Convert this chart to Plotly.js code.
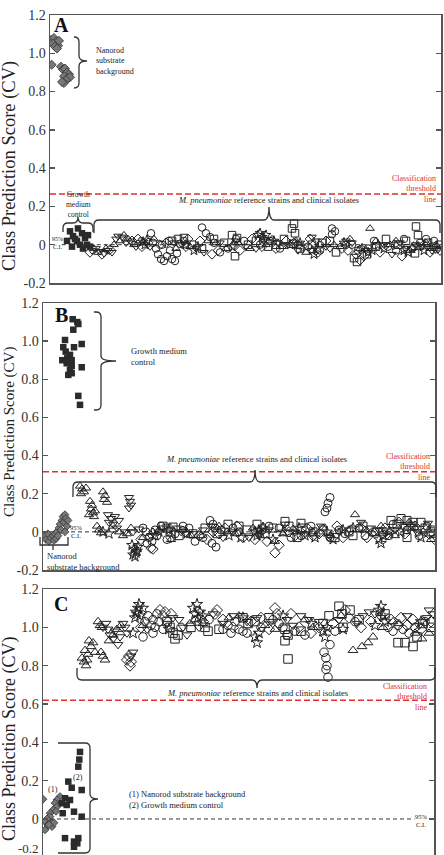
<!DOCTYPE html>
<html><head><meta charset="utf-8">
<script src="https://cdn.plot.ly/plotly-3.0.1.min.js"></script>
<style>body{margin:0;background:#fff}#c{width:444px;height:855px}</style>
</head><body><div id="c"></div>
<script>
// ---------- DATA (x = sample position along strip, y = class prediction score) ----------
// Panel A
const A_nanorod = [[1,1.07],[4,1.08],[6,1.06],[8,1.04],[3,1.05],[9,1.065],[5,1.035],[7,1.025],[1.7,0.94],[11,0.93],[13,0.915],[15,0.92],[17,0.9],[19,0.89],[14,0.88],[18,0.87],[20,0.875],[16,0.86],[14,0.845],[12,0.85]];
const A_growth = [[20,0.07],[28,0.085],[32,0.06],[23,0.045],[35,0.035],[17,0.02],[27,0.02],[30,0.0],[37,0.0],[22,-0.01],[33,-0.02],[40,-0.01],[25,0.03],[38,0.05]];
const A_tdn = [[42,-0.03],[46,-0.02],[50,-0.035],[54,-0.045],[58,-0.03],[62,-0.04],[66,0.03],[68,0.045],[72,0.04],[76,0.01],[80,0.02],[86,-0.01],[132,0.0],[146,-0.02],[170,0.01],[196,-0.01],[214,0.02],[238,0.0],[248,-0.03],[262,0.04],[266,0.02],[280,-0.02],[302,0.01],[316,-0.03],[334,0.0],[350,0.01],[356,-0.02],[372,-0.01],[382,-0.03],[388,-0.025],[100,-0.01],[124,0.01],[154,-0.04],[186,0.02],[206,-0.02],[228,0.01],[276,-0.01],[296,0.02],[342,-0.05],[366,0.0]];
const A_tup = [[44,-0.02],[48,-0.04],[56,-0.02],[64,0.0],[70,0.02],[74,0.05],[78,0.03],[84,0.0],[90,0.02],[94,0.01],[140,-0.01],[158,0.02],[176,-0.02],[188,0.01],[222,0.03],[232,-0.01],[256,-0.04],[270,0.0],[290,-0.01],[300,0.03],[320,0.085],[326,0.02],[340,0.0],[360,-0.03],[376,0.01],[386,0.0],[104,0.03],[126,-0.02],[166,0.01],[200,-0.02],[216,0.0],[246,0.02],[284,0.0],[310,-0.02],[346,0.02],[380,-0.02]];
const A_dia = [[40,-0.04],[52,-0.05],[60,-0.025],[82,0.02],[88,0.03],[92,-0.01],[98,0.01],[110,0.0],[136,-0.01],[150,0.02],[168,-0.03],[184,0.0],[202,0.03],[226,-0.02],[244,0.01],[252,-0.01],[268,-0.04],[276,0.02],[292,-0.02],[306,-0.05],[310,-0.08],[314,-0.06],[330,-0.04],[344,0.0],[364,-0.01],[380,-0.04],[386,-0.02],[390,-0.03],[116,0.01],[138,0.03],[162,-0.05],[190,-0.03],[212,-0.01],[236,0.02],[260,0.03],[298,-0.03],[352,-0.06],[374,0.0]];
const A_cir = [[101,0.06],[103,0.01],[106,-0.02],[108,-0.05],[111,-0.075],[114,-0.085],[117,-0.06],[120,-0.03],[122,-0.075],[125,-0.085],[127,-0.045],[112,0.0],[119,0.02],[130,0.005],[152,0.09],[156,0.06],[160,0.04],[164,0.01],[178,-0.02],[194,0.02],[210,0.0],[230,-0.02],[258,-0.01],[282,0.085],[285,0.07],[282,0.055],[296,0.0],[308,-0.03],[324,0.02],[338,-0.01],[354,0.03],[370,0.01],[384,0.02],[134,0.02],[170,-0.04],[186,0.03],[220,0.02],[248,0.0],[270,-0.03],[302,0.0],[318,-0.02],[346,-0.03],[376,0.03]];
const A_sq = [[122,0.02],[128,0.03],[134,0.035],[142,0.0],[174,0.01],[182,0.05],[187,0.035],[185,-0.06],[198,0.0],[218,-0.01],[234,0.03],[244,0.11],[242,0.085],[245,0.06],[243,0.005],[250,-0.02],[272,0.01],[286,-0.04],[304,-0.07],[307,-0.09],[317,-0.05],[336,0.03],[348,0.0],[366,0.095],[368,0.05],[365,-0.045],[378,0.01],[152,-0.02],[164,0.03],[206,0.02],[226,0.0],[262,0.0],[280,0.02],[326,-0.01],[356,0.02],[384,-0.01],[390,0.0]];
const A_star = [[93,0.015],[95,0.0],[97,0.025],[144,-0.03],[148,-0.01],[208,0.05],[210,0.06],[212,0.04],[214,0.03],[216,0.05],[240,0.0],[262,-0.03],[264,-0.05],[268,-0.02],[312,-0.02],[318,-0.04],[322,-0.03],[328,0.0],[354,-0.03],[358,-0.04],[362,-0.02],[136,0.0],[182,-0.01],[224,0.02],[250,0.01],[294,0.01],[334,-0.02],[368,-0.01],[374,-0.03]];
// Panel B
const B_nanorod = [[1,-0.02],[3,-0.04],[5,-0.01],[6,-0.05],[8,-0.03],[10,-0.02],[11,-0.045],[12,-0.01],[13,-0.035],[14,0.0],[15,-0.02],[16,0.02],[17,0.04],[18,0.01],[19,0.06],[20,0.08],[21,0.05],[22,0.09],[23,0.07],[24,0.03],[25,0.06],[22,0.0]];
const B_growth = [[29.7,1.115],[34.3,1.1],[35.3,1.09],[30.3,1.06],[22,1.006],[20.3,0.968],[31,0.968],[38.7,0.985],[22.7,0.945],[27,0.928],[19.3,0.9],[24.3,0.91],[28.7,0.9],[23.7,0.884],[28.7,0.87],[38.7,0.863],[27,0.85],[25.3,0.823],[28.7,0.832],[35.3,0.713],[37,0.666]];
const B_tup = [[37,0.24],[39,0.225],[41,0.21],[38,0.2],[43,0.23],[47,0.16],[49,0.14],[48,0.12],[50,0.1],[46,0.09],[51,0.08],[52,0.11],[60,0.21],[62,0.19],[61,0.17],[64,0.155],[56,0.01],[58,-0.005],[70,0.03],[76,0.0],[80,-0.02],[88,0.02],[100,-0.03],[110,0.0],[128,-0.04],[140,0.01],[158,-0.02],[176,0.03],[192,-0.01],[210,0.02],[232,-0.05],[250,0.015],[270,0.0],[288,-0.02],[312,0.09],[322,0.01],[338,0.03],[352,-0.02],[366,0.05],[380,0.0],[388,-0.04],[54,0.03],[84,-0.01],[116,0.01],[148,-0.02],[184,0.0],[220,0.03],[240,-0.01],[280,0.02],[330,-0.01],[372,0.02]];
const B_tdn = [[86,0.18],[87,0.16],[88,0.14],[86,0.125],[65,0.09],[68,0.07],[72,0.08],[66,0.05],[70,0.04],[74,0.02],[76,0.06],[82,0.0],[96,0.015],[120,0.02],[138,0.0],[150,-0.01],[168,0.03],[190,0.0],[206,-0.03],[226,0.01],[242,0.04],[262,-0.01],[278,0.03],[296,0.0],[318,0.05],[328,0.02],[344,-0.02],[360,0.03],[374,0.0],[385,0.045],[390,0.02],[90,0.0],[108,-0.02],[134,0.02],[160,0.01],[180,-0.03],[216,-0.02],[252,0.0],[286,-0.03],[336,0.01],[352,0.01]];
const B_star = [[89,-0.07],[91,-0.09],[93,-0.11],[90,-0.12],[95,-0.08],[92,-0.13],[94,-0.1],[60,0.0],[66,-0.01],[112,-0.02],[126,0.01],[186,-0.02],[212,0.0],[214,-0.02],[216,0.01],[218,-0.01],[220,0.02],[230,-0.04],[256,0.02],[262,-0.02],[284,0.0],[290,-0.04],[300,0.01],[336,-0.04],[338,-0.06],[340,-0.02],[358,0.0],[378,-0.03],[116,0.0],[144,-0.01],[198,-0.03],[240,0.0],[272,-0.03],[310,0.02],[346,0.0],[368,0.03]];
const B_cir = [[100,0.02],[103,0.0],[106,-0.03],[109,-0.05],[112,0.01],[114,-0.02],[104,-0.06],[167,0.06],[170,0.04],[172,0.02],[169,-0.06],[173,-0.08],[287,0.18],[285,0.15],[284,0.125],[282,0.105],[287,-0.03],[118,0.03],[132,-0.01],[146,0.02],[160,-0.03],[178,0.01],[196,0.0],[236,0.02],[248,-0.03],[268,0.03],[302,-0.01],[316,0.02],[332,0.0],[350,0.04],[364,0.01],[376,-0.02],[384,0.03],[124,-0.04],[140,0.03],[152,-0.05],[190,0.02],[226,0.03],[258,-0.02],[296,0.01],[322,-0.02],[346,-0.02],[390,-0.01]];
const B_sq = [[120,0.03],[124,0.02],[128,0.0],[130,0.025],[185,0.04],[196,0.03],[242,0.055],[246,0.03],[258,0.045],[259,0.02],[270,0.0],[292,-0.03],[306,0.0],[310,-0.02],[348,0.06],[354,0.04],[358,0.07],[364,0.06],[368,0.03],[370,0.05],[364,-0.03],[382,0.02],[150,-0.01],[204,0.01],[222,-0.01],[230,0.02],[136,-0.02],[162,0.02],[174,-0.01],[214,0.04],[254,-0.03],[280,0.01],[320,0.03],[340,0.0],[378,0.05],[388,0.0]];
const B_dia = [[108,-0.085],[110,-0.09],[142,0.0],[156,-0.02],[164,-0.04],[176,-0.01],[182,0.02],[200,-0.03],[224,-0.05],[232,-0.11],[236,-0.07],[252,-0.02],[264,0.02],[276,-0.01],[294,0.03],[308,0.01],[324,-0.03],[330,0.0],[342,0.02],[356,0.05],[372,0.03],[386,-0.01],[392,-0.04],[98,-0.04],[128,-0.03],[170,0.0],[194,0.03],[212,-0.04],[246,0.0],[270,-0.02],[300,-0.03],[318,0.02],[362,-0.01]];
// Panel C
const C_nanorod = [[0,0.103],[17,0.117],[14,0.1],[12,0.083],[14,0.064],[10,0.047],[7,0.03],[7,0.012],[4,0.0],[2,-0.014],[5,-0.031],[2,-0.057],[9,-0.02],[9,-0.04],[11,-0.02],[6,-0.03],[13,0.04]];
const C_growth = [[37,0.35],[36.3,0.31],[35.3,0.273],[25.3,0.195],[28.7,0.163],[38.7,0.151],[22,0.108],[27,0.099],[18.7,0.082],[23.7,0.073],[19.7,0.03],[31,0.038],[38.7,0.012],[22,-0.1],[31,-0.118],[35.3,-0.1],[34.3,-0.127],[31,-0.145]];
const C_tup = [[39,0.84],[41,0.82],[43,0.8],[44,0.83],[45,0.86],[42,0.88],[48,0.9],[50,0.92],[52,0.87],[46,0.93],[55,1.03],[57,1.01],[59,1.0],[58,0.87],[60,0.85],[62,0.83],[66,0.93],[70,0.96],[74,0.99],[78,1.01],[147,1.02],[152,1.04],[196,1.06],[232,0.99],[262,1.04],[310,0.88],[319,0.9],[325,0.92],[330,0.95],[340,1.0],[356,1.02],[379,0.94],[386,0.97],[100,1.01],[160,1.02],[186,1.05],[222,1.01],[270,1.0],[298,1.06],[350,1.03],[372,0.97]];
const C_tdn = [[60,1.0],[63,1.02],[65,0.99],[67,0.96],[70,0.94],[72,0.98],[75,0.91],[77,0.95],[80,1.02],[82,1.0],[84,0.97],[88,0.85],[90,0.87],[130,1.05],[136,1.04],[140,1.0],[144,0.96],[170,1.07],[180,1.02],[204,1.03],[214,1.05],[250,1.01],[258,1.06],[266,1.04],[276,1.03],[320,1.06],[326,1.08],[332,1.07],[338,1.05],[386,1.09],[390,1.07],[384,1.05],[104,0.99],[124,1.02],[156,1.0],[190,1.06],[228,1.03],[244,1.04],[296,1.04],[314,1.02],[364,1.06],[376,1.01]];
const C_star = [[90,0.97],[92,1.05],[93,1.08],[95,1.1],[96,1.12],[94,1.07],[97,1.06],[150,1.1],[152,1.07],[155,1.05],[157,1.08],[160,1.06],[154,1.12],[212,0.95],[214,0.92],[216,0.97],[280,0.98],[282,0.95],[284,1.0],[336,1.09],[338,1.11],[340,1.06],[342,1.03],[100,1.1],[126,0.99],[200,1.05],[240,1.06],[268,1.02],[300,0.99],[332,1.01],[378,1.03]];
const C_cir = [[100,0.95],[102,1.03],[105,1.06],[108,1.01],[110,1.04],[112,1.0],[114,1.07],[116,1.03],[110,0.97],[180,0.99],[185,1.01],[188,0.97],[192,1.03],[196,0.99],[200,0.98],[236,1.02],[240,1.0],[244,0.96],[281,0.87],[283,0.84],[284,0.8],[283,0.78],[285,0.74],[287,0.91],[345,1.0],[350,0.98],[355,1.01],[360,0.99],[366,0.97],[230,1.04],[120,0.99],[138,1.0],[166,1.04],[204,0.97],[218,1.0],[252,0.98],[262,0.96],[292,0.98],[312,1.03],[372,1.0],[382,1.03]];
const C_sq = [[124,1.03],[127,1.0],[130,0.97],[132,0.94],[135,0.96],[162,1.0],[165,0.98],[200,1.05],[205,1.02],[242,0.99],[245,0.96],[242,0.93],[245,0.835],[280,1.02],[296,1.11],[307,1.09],[299,1.07],[300,1.0],[355,0.92],[362,0.92],[370,0.9],[374,0.95],[148,1.0],[176,0.99],[212,1.03],[226,1.05],[258,0.98],[286,1.06],[316,1.04],[342,1.07],[380,1.02],[388,1.0]];
const C_dia = [[84,0.83],[86,0.85],[88,0.82],[87,0.8],[117,1.09],[120,1.06],[122,1.08],[172,1.07],[174,1.09],[180,1.04],[208,1.03],[226,0.99],[232,1.1],[234,1.07],[256,1.0],[268,0.97],[290,1.02],[302,1.09],[306,1.05],[318,1.0],[348,1.04],[364,1.01],[378,0.99],[388,1.03],[98,1.0],[128,1.07],[160,1.03],[190,1.0],[218,1.05],[248,1.07],[276,1.0],[328,1.03],[358,1.05],[370,1.04]];
// Reference lines
const thresholds = {A:0.265, B:0.315, C:0.62};
const ciLevel = 0;
const yTickVals = [-0.2,0,0.2,0.4,0.6,0.8,1.0,1.2];
const yTickText = ["-0.2","0","0.2","0.4","0.6","0.8","1.0","1.2"];

// ---------- RENDERING ----------
const W=444, H=855;
const SERIF = "'Liberation Serif', 'Times New Roman', Times, serif";
const traces = [];
function add(pairs, ax, symbol, size, opts={}){
  traces.push({type:'scatter', mode:'markers', showlegend:false, hoverinfo:'skip',
    x:pairs.map(p=>p[0]), y:pairs.map(p=>p[1]), xaxis:'x'+ax, yaxis:'y'+ax,
    marker:{symbol, size, color: opts.color||'#222', line:{color: opts.lc||'#222', width: opts.lw==null?1:opts.lw}}});
}
const open = [['_cir','circle-open'],['_sq','square-open'],['_tup','triangle-up-open'],['_tdn','triangle-down-open'],['_dia','diamond-open'],['_star','star-open']];
const sets = {A:{A_cir,A_sq,A_tup,A_tdn,A_dia,A_star}, B:{B_cir,B_sq,B_tup,B_tdn,B_dia,B_star}, C:{C_cir,C_sq,C_tup,C_tdn,C_dia,C_star}};
const axn = {A:'',B:'2',C:'3'};
const msize = {A:7.5,B:8,C:8.5};
for (const P of ['A','B','C']){
  for (const [suf,sym] of open){ add(sets[P][P+suf], axn[P], sym, msize[P]); }
}
add(A_nanorod,'', 'diamond', 7, {color:'#777', lc:'#333', lw:0.8});
add(A_growth,'', 'square', 6.5, {color:'#2b2b2b', lc:'#2b2b2b', lw:0});
add(B_nanorod,'2', 'diamond', 6, {color:'#777', lc:'#333', lw:0.8});
add(B_growth,'2', 'square', 6.5, {color:'#2b2b2b', lc:'#2b2b2b', lw:0});
add(C_nanorod,'3', 'diamond', 6, {color:'#777', lc:'#333', lw:0.8});
add(C_growth,'3', 'square', 6.5, {color:'#2b2b2b', lc:'#2b2b2b', lw:0});

function xax(l,r){return {domain:[l/W,r/W], showline:true, mirror:true, linecolor:'#555', linewidth:1.5, showticklabels:false, ticks:'', showgrid:false, zeroline:false};}
function yax(top,bot,lo){return {domain:[Math.max(0,1-bot/H),1-top/H], range:[lo,1.2], showline:true, mirror:'allticks', linecolor:'#555', linewidth:1.5,
  ticks:'inside', ticklen:5, tickwidth:1.5, tickcolor:'#555', tickvals:yTickVals, ticktext:yTickText, showgrid:false, zeroline:false,
  tickfont:{family:SERIF, size:14, color:'#333'}};}

const layout = {width:W, height:H, margin:{l:0,r:0,t:0,b:0}, paper_bgcolor:'#fff', plot_bgcolor:'rgba(0,0,0,0)', showlegend:false,
  xaxis:Object.assign(xax(50,441),{range:[0,391], anchor:'y'}),
  yaxis:Object.assign(yax(15,283,-0.2),{anchor:'x'}),
  xaxis2:Object.assign(xax(43,435),{range:[0,392], anchor:'y2'}),
  yaxis2:Object.assign(yax(303,570,-0.2),{anchor:'x2'}),
  xaxis3:Object.assign(xax(43,434),{range:[0,391], anchor:'y3'}),
  yaxis3:Object.assign(yax(589,855,-0.188),{anchor:'x3'}),
  shapes:[], annotations:[]};

const RED = '#e0302c';
[['A',''],['B','2'],['C','3']].forEach(([P,a])=>{
  layout.shapes.push({type:'line', xref:'x'+a+' domain', yref:'y'+a, x0:0, x1:1, y0:thresholds[P], y1:thresholds[P], line:{color:RED, width:1.5, dash:'6px,3px'}});
});
layout.shapes.push({type:'line', xref:'x domain', yref:'y', x0:0.03, x1:1, y0:ciLevel, y1:ciLevel, line:{color:'#333', width:1, dash:'4px,3px'}, layer:'below'});
layout.shapes.push({type:'line', xref:'x2 domain', yref:'y2', x0:0.0, x1:1, y0:ciLevel, y1:ciLevel, line:{color:'#333', width:1, dash:'4px,3px'}, layer:'below'});
layout.shapes.push({type:'line', xref:'x3 domain', yref:'y3', x0:0.0, x1:0.95, y0:ciLevel, y1:ciLevel, line:{color:'#333', width:1, dash:'4px,3px'}, layer:'below'});

const pt=(x,y)=>(x/W).toFixed(5)+','+(1-y/H).toFixed(5);
function hBrace(x1,x2,y,xm,tipY,endY){const r=5,s=Math.sign(endY-y);
  return `M${pt(x1,endY)} L${pt(x1,y+s*r)} Q${pt(x1,y)} ${pt(x1+r,y)} L${pt(xm-r,y)} Q${pt(xm,y)} ${pt(xm,tipY)} Q${pt(xm,y)} ${pt(xm+r,y)} L${pt(x2-r,y)} Q${pt(x2,y)} ${pt(x2,y+s*r)} L${pt(x2,endY)}`;}
function vBrace(x,y1,y2,ym,tipX,endX){const r=5;
  return `M${pt(endX,y1)} L${pt(x-r,y1)} Q${pt(x,y1)} ${pt(x,y1+r)} L${pt(x,ym-r)} Q${pt(x,ym)} ${pt(tipX,ym)} Q${pt(x,ym)} ${pt(x,ym+r)} L${pt(x,y2-r)} Q${pt(x,y2)} ${pt(x-r,y2)} L${pt(endX,y2)}`;}
function addPath(d){layout.shapes.push({type:'path', xref:'paper', yref:'paper', path:d, line:{color:'#333', width:1.3}});}
addPath(vBrace(79,37,88,61,87,74));
addPath(hBrace(63,93,223,78,217,232));
addPath(hBrace(94,440,220,269,207,233));
addPath(vBrace(101,312,410,361,116,94));
addPath(hBrace(73,436,482,255,470,497));
addPath(`M${pt(40,537)} L${pt(40,545)} L${pt(68,545)} L${pt(68,537)} M${pt(53,545)} L${pt(53,550)}`);
addPath(hBrace(77,435,680,257,688,668));
addPath(vBrace(90,743,853,799,98,58));

// text blocks: y = vertical centre of the block (pixels)
function T(x,y,text,o={}){layout.annotations.push({xref:'paper',yref:'paper',x:x/W,y:1-y/H,text,showarrow:false,
  xanchor:o.a||'left', yanchor:'middle', textangle:o.rot||0, align:o.a||'left', borderpad:0,
  font:{family:SERIF,size:o.s||8.5,color:o.c||'#222'}});}
T(9,166,'Class Prediction Score (CV)',{a:'center',rot:-90,s:18.5});
T(9,432,'Class Prediction Score (CV)',{a:'center',rot:-90,s:15});
T(9,739,'Class Prediction Score (CV)',{a:'center',rot:-90,s:18});
T(61,25,'<b>A</b>',{a:'center',s:20,c:'#111'});
T(61,315,'<b>B</b>',{a:'center',s:20,c:'#111'});
T(61,604,'<b>C</b>',{a:'center',s:20,c:'#111'});
// Panel A
T(95,61,'Nanorod<br>substrate<br>background',{s:8});
T(78,205,'Growth<br>medium<br>control',{a:'center',s:7.5});
T(268,200,'<i>M. pneumoniae</i> reference strains and clinical isolates',{a:'center',s:8.5});
T(437,189,'Classification<br>threshold<br>line',{a:'right',c:RED,s:8});
T(57,243,'95%<br>C.I.',{a:'center',s:6});
// Panel B
T(130,356,'Growth medium<br>control',{s:8.5});
T(46,561,'Nanorod<br>substrate background',{s:8.5});
T(76,531,'95%<br>C.I.',{a:'center',s:6.5});
T(256,459,'<i>M. pneumoniae</i> reference strains and clinical isolates',{a:'center',s:8.5});
T(431,467,'Classification<br>threshold<br>line',{a:'right',c:RED,s:8});
// Panel C
T(257,693,'<i>M. pneumoniae</i> reference strains and clinical isolates',{a:'center',s:8.5});
T(428,697,'Classification<br>threshold<br>line',{a:'right',c:RED,s:8});
T(128,799,'(1) Nanorod substrate background<br>(2) Growth medium control',{s:8.5});
T(53,789,'(1)',{a:'center',s:8}); T(78,777,'(2)',{a:'center',s:8});
T(421,820,'95%<br>C.I.',{a:'center',s:6.5});
T(40,848,'-0.2',{a:'right',s:13,c:'#333'});

Plotly.newPlot('c', traces, layout, {staticPlot:true, displayModeBar:false});
</script></body></html>
